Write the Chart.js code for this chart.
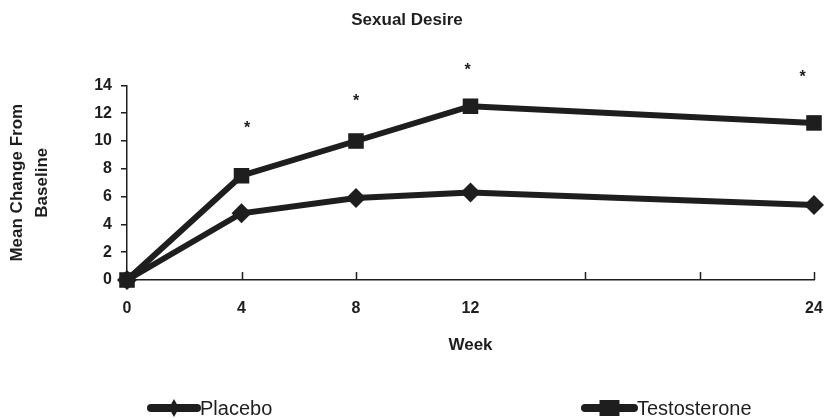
<!DOCTYPE html>
<html>
<head>
<meta charset="utf-8">
<script src="https://cdn.jsdelivr.net/npm/chart.js@4.4.1/dist/chart.umd.min.js"></script>
<style>
  html,body{margin:0;padding:0;background:#fff;}
  #wrap{width:829px;height:419px;position:relative;}
</style>
</head>
<body>
<div id="wrap"><canvas id="chart" width="829" height="419"></canvas></div>
<script>
// data
const weeks=[0,4,8,12,24];
const placebo=[0,4.8,5.9,6.3,5.4];
const testosterone=[0,7.5,10.0,12.5,11.3];
const xTickValues=[0,4,8,12,16,20,24];
const xTickLabels=['0','4','8','12','','','24'];
// significance markers (*) above the testosterone points
const starWeeks=[4.2,8,11.9,23.6];
const starValues=[11.2,13.2,15.4,14.9];

const ink='#1e1e1e';
const sans="'Liberation Sans', Arial, sans-serif";

const extras={
  id:'extras',
  afterDraw(chart){
    const ctx=chart.ctx, x=chart.scales.x, y=chart.scales.y;
    ctx.save();
    // x ticks point up into the plot
    ctx.strokeStyle=ink; ctx.lineWidth=1.5;
    xTickValues.forEach(v=>{
      if(v===0||v===12) return;
      const px=Math.round(x.getPixelForValue(v))+0.5;
      ctx.beginPath(); ctx.moveTo(px,y.bottom); ctx.lineTo(px,y.bottom-8); ctx.stroke();
    });
    // asterisks
    ctx.fillStyle=ink; ctx.font='bold 16px '+sans; ctx.textAlign='center'; ctx.textBaseline='alphabetic';
    starWeeks.forEach((w,i)=>{
      ctx.fillText('*',x.getPixelForValue(w),y.getPixelForValue(starValues[i])+9);
    });
    // legend
    const items=[{x:148,w:52,ds:chart.data.datasets[1]},{x:582,w:55,ds:chart.data.datasets[0]}];
    const ly=408;
    ctx.font='20px '+sans; ctx.textAlign='left'; ctx.textBaseline='middle';
    items.forEach(it=>{
      ctx.strokeStyle=ink; ctx.lineWidth=8; ctx.lineCap='round';
      ctx.beginPath(); ctx.moveTo(it.x+3,ly); ctx.lineTo(it.x+it.w-3,ly); ctx.stroke();
      const cx=it.x+it.w/2;
      ctx.fillStyle=ink;
      ctx.beginPath();
      if(it.ds.pointStyle==='rect'){
        ctx.rect(cx-10,ly-8,20,16);
      }else{
        ctx.moveTo(cx,ly-9); ctx.lineTo(cx+5,ly); ctx.lineTo(cx,ly+9); ctx.lineTo(cx-5,ly); ctx.closePath();
      }
      ctx.fill();
      ctx.fillText(it.ds.label,it.x+it.w,ly+1);
    });
    ctx.restore();
  }
};

new Chart(document.getElementById('chart'),{
  type:'line',
  data:{
    datasets:[
      {label:'Testosterone',data:weeks.map((w,i)=>({x:w,y:testosterone[i]})),
       borderColor:ink,backgroundColor:ink,borderWidth:6,pointStyle:'rect',pointRadius:11,
       pointBackgroundColor:ink,pointBorderWidth:0,tension:0,clip:false,order:1},
      {label:'Placebo',data:weeks.map((w,i)=>({x:w,y:placebo[i]})),
       borderColor:ink,backgroundColor:ink,borderWidth:6,pointStyle:'rectRot',pointRadius:10,
       pointBackgroundColor:ink,pointBorderWidth:0,tension:0,clip:false,order:2}
    ]
  },
  options:{
    responsive:false,
    animation:false,
    layout:{padding:{left:0,right:15,top:0,bottom:0}},
    plugins:{
      legend:{display:false},
      tooltip:{enabled:false},
      title:{display:true,text:'Sexual Desire',color:ink,
        font:{family:sans,size:17,weight:'bold'},padding:{top:10,bottom:55}}
    },
    scales:{
      x:{
        type:'linear',min:0,max:24,
        afterBuildTicks(s){ s.ticks=xTickValues.map(v=>({value:v})); },
        afterFit(s){ s.height=139; s.paddingLeft=0; s.paddingRight=0; },
        grid:{display:true,drawOnChartArea:false,drawTicks:false},
        border:{display:true,color:ink,width:1.5},
        ticks:{color:ink,padding:19,maxRotation:0,autoSkip:false,
          font:{family:sans,size:16,weight:'bold'},
          callback:v=>xTickLabels[xTickValues.indexOf(v)]},
        title:{display:true,text:'Week',color:ink,
          font:{family:sans,size:17,weight:'bold'},padding:{top:0,bottom:63}}
      },
      y:{
        min:0,max:14,
        afterFit(s){ s.width=127; },
        grid:{display:true,drawOnChartArea:false,drawTicks:true,tickLength:6,color:ink,lineWidth:1.5},
        border:{display:true,color:ink,width:1.5},
        ticks:{stepSize:2,color:ink,padding:9,font:{family:sans,size:16,weight:'bold'}},
        title:{display:true,text:['Mean Change From','Baseline'],color:ink,
          font:{family:sans,size:17,weight:'bold',lineHeight:1.45},padding:{top:5,bottom:0}}
      }
    }
  },
  plugins:[extras]
});
</script>
</body>
</html>
